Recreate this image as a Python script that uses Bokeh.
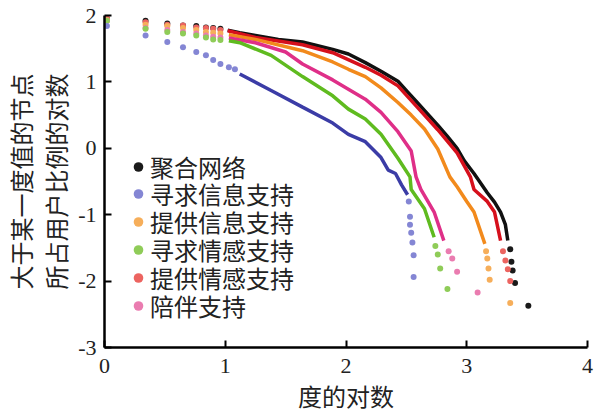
from bokeh.plotting import figure
from bokeh.models import Legend, LegendItem, FixedTicker
from bokeh.embed import file_html
from bokeh.resources import INLINE

# ---------------- data (log10 degree, log10 percentage) ----------------
names = ["聚合网络", "寻求信息支持", "提供信息支持", "寻求情感支持", "提供情感支持", "陪伴支持"]

head_x = [0.02, 0.34, 0.52, 0.65, 0.76, 0.84, 0.90, 0.96]

# 聚合网络
agg_head_y = [1.95, 1.92, 1.88, 1.85, 1.84, 1.82, 1.81, 1.80]
agg_body_x = [1.02, 1.12, 1.25, 1.44, 1.64, 1.89, 2.02, 2.16, 2.29, 2.43, 2.51, 2.59, 2.67,
              2.76, 2.84, 2.92, 2.98, 3.06, 3.17, 3.23, 3.28, 3.32, 3.34]
agg_body_y = [1.78, 1.74, 1.70, 1.64, 1.60, 1.49, 1.42, 1.29, 1.16, 1.01, 0.85, 0.69, 0.53,
              0.35, 0.18, 0.00, -0.19, -0.38, -0.67, -0.81, -0.96, -1.15, -1.39]
agg_tail_x = [3.36, 3.37, 3.38, 3.40, 3.51]
agg_tail_y = [-1.52, -1.71, -1.84, -2.03, -2.37]

# 寻求信息支持
si_head_x = [0.02, 0.34, 0.52, 0.65, 0.76, 0.84, 0.90, 0.96, 1.03, 1.08]
si_head_y = [1.84, 1.70, 1.60, 1.52, 1.45, 1.40, 1.33, 1.27, 1.22, 1.19]
si_body_x = [1.12, 1.38, 1.64, 1.89, 2.02, 2.16, 2.29, 2.35, 2.41, 2.46, 2.51]
si_body_y = [1.12, 0.87, 0.62, 0.38, 0.21, 0.10, -0.14, -0.33, -0.38, -0.55, -0.70]
si_tail_x = [2.52, 2.53, 2.53, 2.54, 2.55, 2.56, 2.56]
si_tail_y = [-0.80, -1.03, -1.15, -1.27, -1.42, -1.61, -1.94]

# 提供信息支持
pi_head_y = [1.93, 1.86, 1.84, 1.81, 1.78, 1.75, 1.74, 1.73]
pi_body_x = [1.03, 1.25, 1.64, 1.89, 2.02, 2.16, 2.29, 2.43, 2.54, 2.65, 2.76, 2.86, 2.92,
             3.00, 3.06, 3.15]
pi_body_y = [1.71, 1.64, 1.47, 1.30, 1.19, 1.08, 0.91, 0.69, 0.50, 0.29, -0.01, -0.43, -0.58,
             -0.80, -0.96, -1.44]
pi_tail_x = [3.16, 3.17, 3.18, 3.19, 3.36]
pi_tail_y = [-1.55, -1.66, -1.81, -1.98, -2.33]

# 寻求情感支持
se_head_y = [1.92, 1.80, 1.75, 1.73, 1.70, 1.67, 1.64, 1.63]
se_body_x = [1.03, 1.12, 1.38, 1.64, 1.89, 2.02, 2.16, 2.29, 2.43, 2.53, 2.54, 2.65, 2.73]
se_body_y = [1.62, 1.59, 1.40, 1.08, 0.79, 0.59, 0.44, 0.21, -0.15, -0.43, -0.62, -0.91, -1.34]
se_tail_x = [2.74, 2.76, 2.78, 2.84]
se_tail_y = [-1.47, -1.60, -1.81, -2.12]

# 提供情感支持
pe_head_y = [1.96, 1.90, 1.86, 1.85, 1.82, 1.81, 1.80, 1.78]
pe_body_x = [1.02, 1.25, 1.64, 1.89, 2.16, 2.29, 2.43, 2.59, 2.76, 2.92, 3.03, 3.06, 3.17,
             3.23, 3.28]
pe_body_y = [1.77, 1.67, 1.56, 1.44, 1.22, 1.10, 0.94, 0.62, 0.28, -0.07, -0.43, -0.62, -0.80,
             -0.96, -1.39]
pe_tail_x = [3.30, 3.32, 3.34, 3.36]
pe_tail_y = [-1.55, -1.69, -1.82, -2.00]

# 陪伴支持
co_head_y = [1.92, 1.81, 1.78, 1.75, 1.73, 1.70, 1.68, 1.67]
co_body_x = [1.03, 1.25, 1.50, 1.64, 1.89, 2.16, 2.29, 2.43, 2.54, 2.58, 2.62, 2.73, 2.81]
co_body_y = [1.66, 1.59, 1.45, 1.27, 1.03, 0.74, 0.54, 0.25, -0.04, -0.43, -0.62, -0.96, -1.39]
co_tail_x = [2.85, 2.88, 2.92, 3.09]
co_tail_y = [-1.55, -1.66, -1.86, -2.17]

x_ticks = [0, 1, 2, 3, 4]
y_ticks = [-3, -2, -1, 0, 1, 2]
x_title = "度的对数"
y_title = "大于某一度值的节点\n所占用户比例的对数"

line_colors = {"聚合网络": "#111111", "寻求信息支持": "#3b3ca6", "提供信息支持": "#f28a1c",
               "寻求情感支持": "#5fbb1f", "提供情感支持": "#d6101c", "陪伴支持": "#df2f88"}
dot_colors = {"聚合网络": "#1a1a1a", "寻求信息支持": "#8486d4", "提供信息支持": "#f6ae5a",
              "寻求情感支持": "#8fcc58", "提供情感支持": "#ec6460", "陪伴支持": "#ea7cb0"}

series = {
    "聚合网络": (head_x, agg_head_y, agg_body_x, agg_body_y, agg_tail_x, agg_tail_y),
    "寻求信息支持": (si_head_x, si_head_y, si_body_x, si_body_y, si_tail_x, si_tail_y),
    "提供信息支持": (head_x, pi_head_y, pi_body_x, pi_body_y, pi_tail_x, pi_tail_y),
    "寻求情感支持": (head_x, se_head_y, se_body_x, se_body_y, se_tail_x, se_tail_y),
    "提供情感支持": (head_x, pe_head_y, pe_body_x, pe_body_y, pe_tail_x, pe_tail_y),
    "陪伴支持": (head_x, co_head_y, co_body_x, co_body_y, co_tail_x, co_tail_y),
}

# ---------------- figure ----------------
p = figure(width=598, height=419, x_range=(0, 4), y_range=(-3, 2),
           output_backend="svg", toolbar_location=None,
           min_border_left=104, min_border_right=11, min_border_top=15, min_border_bottom=72)
p.outline_line_color = None
p.grid.visible = False
p.background_fill_color = "white"

for ax in (p.xaxis[0], p.yaxis[0]):
    ax.axis_line_width = 2.5
    ax.axis_line_color = "black"
    ax.major_tick_in = 7
    ax.major_tick_out = 0
    ax.major_tick_line_width = 2
    ax.major_tick_line_color = "black"
    ax.minor_tick_line_color = None
    ax.major_label_text_font = "Liberation Serif"
    ax.major_label_text_font_size = "22px"
    ax.major_label_text_color = "#222222"
    ax.axis_label_text_font = "Noto Sans CJK SC"
    ax.axis_label_text_font_size = "24px"
    ax.axis_label_text_font_style = "normal"
    ax.axis_label_text_color = "#222222"
    ax.axis_label_text_line_height = 1.0

p.xaxis.ticker = FixedTicker(ticks=x_ticks)
p.yaxis.ticker = FixedTicker(ticks=y_ticks)
p.xaxis.major_label_overrides = {t: str(t) for t in x_ticks}
p.yaxis.major_label_overrides = {t: str(t) for t in y_ticks}
p.xaxis.major_label_standoff = 11
p.yaxis.major_label_standoff = 8
p.xaxis.axis_label = x_title
p.xaxis.axis_label_standoff = 2
p.yaxis.axis_label = y_title
p.yaxis.axis_label_standoff = 2

draw_order = ["聚合网络", "提供情感支持", "提供信息支持", "陪伴支持", "寻求情感支持", "寻求信息支持"]
legend_renderers = {}
for name in draw_order:
    hx, hy, bx, by, tx, ty = series[name]
    p.line(bx, by, line_color=line_colors[name], line_width=3.5)
    r = p.scatter(list(hx) + list(tx), list(hy) + list(ty), size=6,
                  fill_color=dot_colors[name], line_color=None)
    legend_renderers[name] = r

# one legend per row, so that rows can sit 28 px apart
row_step = 27.8
for i, n in enumerate(names):
    lg = Legend(items=[LegendItem(label=n, renderers=[legend_renderers[n]])],
                location=(22, 163.5 - row_step * i))
    lg.background_fill_alpha = 0
    lg.border_line_color = None
    lg.padding = 0
    lg.margin = 0
    lg.spacing = 0
    lg.glyph_width = 24
    lg.glyph_height = 33
    lg.label_height = 24
    lg.label_standoff = 0
    lg.label_text_font = "Noto Sans CJK SC"
    lg.label_text_font_size = "24px"
    lg.label_text_color = "#222222"
    p.add_layout(lg)

open("out.html", "w").write(file_html(p, INLINE))
